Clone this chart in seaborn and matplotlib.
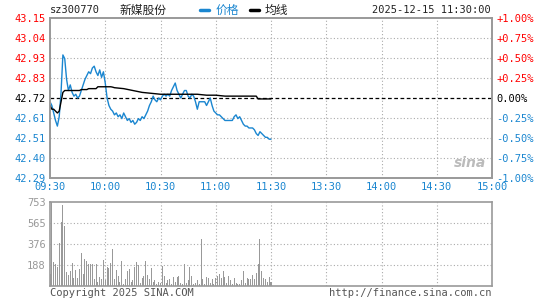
import numpy as np
import pandas as pd
import seaborn as sns
import matplotlib.pyplot as plt

# ── data ─────────────────────────────────────────────────────────────────────
stock_code = "sz300770"
stock_name = "新媒股份"
timestamp = "2025-12-15 11:30:00"
prev_close = 42.72

time_labels = ["09:30", "10:00", "10:30", "11:00", "11:30", "13:30", "14:00", "14:30", "15:00"]
pct_levels = [-1.00, -0.75, -0.50, -0.25, 0.00, 0.25, 0.50, 0.75, 1.00]
vol_ticks = [188, 376, 565, 753]

# one value per minute, 09:30 .. 11:30
price = [
    42.70, 42.68, 42.64, 42.60, 42.57, 42.62, 42.75, 42.95, 42.93, 42.82,
    42.76, 42.79, 42.75, 42.73, 42.74, 42.72, 42.73, 42.76, 42.79, 42.82,
    42.84, 42.86, 42.85, 42.88, 42.89, 42.86, 42.84, 42.87, 42.83, 42.86,
    42.80, 42.72, 42.68, 42.66, 42.65, 42.63, 42.64, 42.62, 42.63, 42.61,
    42.64, 42.62, 42.60, 42.61, 42.59, 42.60, 42.58, 42.59, 42.61, 42.60,
    42.62, 42.61, 42.63, 42.65, 42.68, 42.70, 42.73, 42.71, 42.70, 42.72,
    42.71, 42.73, 42.74, 42.73, 42.74, 42.73, 42.76, 42.78, 42.80, 42.76,
    42.74, 42.72, 42.74, 42.76, 42.76, 42.73, 42.72, 42.74, 42.73, 42.70,
    42.66, 42.70, 42.70, 42.70, 42.70, 42.68, 42.70, 42.72, 42.68, 42.65,
    42.64, 42.63, 42.63, 42.62, 42.61, 42.60, 42.60, 42.60, 42.60, 42.60,
    42.62, 42.63, 42.61, 42.62, 42.60, 42.58, 42.57, 42.57, 42.56, 42.56,
    42.56, 42.55, 42.53, 42.52, 42.54, 42.53, 42.52, 42.51, 42.51, 42.50,
    42.50,
]

avg_price = [
    42.68, 42.66, 42.66, 42.65, 42.64, 42.65, 42.70, 42.75, 42.76, 42.76,
    42.76, 42.76, 42.76, 42.76, 42.76, 42.76, 42.76, 42.765, 42.765, 42.765,
    42.765, 42.77, 42.77, 42.77, 42.77, 42.77, 42.78, 42.78, 42.78, 42.78,
    42.78, 42.78, 42.78, 42.78, 42.778, 42.775, 42.774, 42.773, 42.772, 42.771,
    42.77, 42.768, 42.766, 42.764, 42.762, 42.76, 42.758, 42.756, 42.754, 42.752,
    42.75, 42.749, 42.748, 42.747, 42.746, 42.745, 42.744, 42.743, 42.742, 42.741,
    42.74, 42.74, 42.74, 42.74, 42.74, 42.74, 42.74, 42.74, 42.74, 42.74,
    42.74, 42.74, 42.74, 42.74, 42.74, 42.74, 42.74, 42.74, 42.74, 42.74,
    42.74, 42.739, 42.738, 42.737, 42.736, 42.735, 42.735, 42.735, 42.735, 42.735,
    42.735, 42.734, 42.733, 42.732, 42.731, 42.73, 42.73, 42.73, 42.73, 42.73,
    42.73, 42.73, 42.73, 42.73, 42.73, 42.73, 42.73, 42.73, 42.73, 42.73,
    42.73, 42.73, 42.73, 42.715, 42.715, 42.715, 42.715, 42.715, 42.715, 42.715,
    42.715,
]

volume = [
    107, 760, 218, 197, 173, 382, 571, 726, 538, 128,
    98, 137, 210, 70, 140, 75, 150, 300, 110, 240,
    220, 200, 200, 200, 60, 200, 40, 80, 60, 230,
    50, 170, 160, 210, 330, 60, 140, 90, 40, 220,
    20, 60, 130, 150, 40, 50, 170, 215, 190, 30,
    70, 90, 225, 100, 60, 160, 40, 50, 20, 40,
    30, 175, 90, 30, 50, 60, 20, 80, 40, 80,
    90, 30, 20, 200, 30, 50, 170, 90, 20, 30,
    50, 20, 420, 60, 20, 80, 70, 30, 60, 20,
    70, 90, 110, 70, 130, 80, 30, 90, 50, 20,
    70, 30, 20, 20, 50, 130, 30, 70, 60, 60,
    100, 60, 120, 200, 420, 130, 70, 60, 40, 80,
    40,
]

df = pd.DataFrame({"minute": np.arange(len(price)), "price": price,
                   "avg": avg_price, "volume": volume})

RED = "#ff0000"
BLUE = "#1a86d0"
GRAY = "#999999"
GRID = "#aaaaaa"

sns.set_style("white")
plt.rcParams["font.family"] = ["DejaVu Sans Mono", "Noto Sans CJK SC"]

W, H = 545, 300
fig = plt.figure(figsize=(W / 100, H / 100), dpi=100)


def px_axes(x0, y0, x1, y1):
    return fig.add_axes([x0 / W, 1 - y1 / H, (x1 - x0) / W, (y1 - y0) / H])


ax = px_axes(50, 18, 492, 178)
axv = px_axes(50, 202, 492, 286)

# ── price panel ──────────────────────────────────────────────────────────────
price_ticks = [prev_close * (1 + p / 100) for p in pct_levels]
ax.set_xlim(0, 240)
ax.set_ylim(price_ticks[0], price_ticks[-1])
for t in price_ticks[1:-1]:
    if abs(t - prev_close) > 1e-9:
        ax.axhline(t, color=GRID, lw=0.8, ls=(0, (1, 2)), zorder=0)
for xt in range(30, 240, 30):
    ax.axvline(xt, color=GRID, lw=0.8, ls=(0, (1, 2)), zorder=0)
ax.axhline(prev_close, color="black", lw=0.9, ls=(0, (3, 2)), zorder=1)

sns.lineplot(data=df, x="minute", y="avg", color="black", lw=1.0, ax=ax, zorder=3)
sns.lineplot(data=df, x="minute", y="price", color=BLUE, lw=1.0, ax=ax, zorder=2)

ax.set_yticks(price_ticks)
ax.set_yticklabels([f"{t:.2f}" for t in price_ticks], fontsize=7.5)
for lbl, p in zip(ax.get_yticklabels(), pct_levels):
    lbl.set_color(RED if p > 0 else ("black" if p == 0 else BLUE))

ax.set_xticks(range(0, 241, 30))
ax.set_xticklabels(time_labels, fontsize=7.5, color=BLUE)
ax.tick_params(length=0, pad=3)
ax.set_xlabel("")
ax.set_ylabel("")

axr = ax.twinx()
axr.set_ylim(pct_levels[0], pct_levels[-1])
axr.set_yticks(pct_levels)
axr.set_yticklabels([("+" if p > 0 else "") + f"{p:.2f}%" for p in pct_levels], fontsize=7.5)
for lbl, p in zip(axr.get_yticklabels(), pct_levels):
    lbl.set_color(RED if p > 0 else ("black" if p == 0 else BLUE))
axr.tick_params(length=0, pad=3)

for a in (ax, axr, axv):
    for s in a.spines.values():
        s.set_color(GRAY)
        s.set_linewidth(1.2)

# ── volume panel ─────────────────────────────────────────────────────────────
axv.set_xlim(0, 240)
axv.set_ylim(0, vol_ticks[-1])
for t in vol_ticks[:-1]:
    axv.axhline(t, color=GRID, lw=0.8, ls=(0, (1, 2)), zorder=0)
for xt in range(30, 240, 30):
    axv.axvline(xt, color=GRID, lw=0.8, ls=(0, (1, 2)), zorder=0)
axv.bar(df["minute"], df["volume"], width=0.55, color=GRAY, linewidth=0, zorder=2)
axv.set_yticks(vol_ticks)
axv.set_yticklabels([str(v) for v in vol_ticks], fontsize=7.5, color=GRAY)
axv.set_xticks([])
axv.tick_params(length=0, pad=3)

# ── header / footer text ─────────────────────────────────────────────────────
def px_text(x, y, s, **kw):
    fig.text(x / W, 1 - y / H, s, va="center", **kw)

px_text(50, 10, stock_code, fontsize=7.5, color="#222222")
px_text(120, 10, stock_name, fontsize=8.5, color="#222222")
fig.add_artist(plt.Line2D([200 / W, 209 / W], [1 - 10 / H] * 2, color=BLUE, lw=2.5))
px_text(216, 10, "价格", fontsize=8.5, color=BLUE)
fig.add_artist(plt.Line2D([250 / W, 259 / W], [1 - 10 / H] * 2, color="black", lw=2.5))
px_text(265, 10, "均线", fontsize=8.5, color="#222222")
px_text(491, 10, timestamp, fontsize=7.5, color="#222222", ha="right")

px_text(50, 293, "Copyright 2025 SINA.COM", fontsize=7.5, color="#555555")
px_text(491, 293, "http://finance.sina.com.cn", fontsize=7.5, color="#555555", ha="right")
px_text(486, 163, "sina", fontsize=10, color="#bbbbbb", ha="right",
        style="italic", weight="bold", family="DejaVu Sans")

fig.savefig("out.png", dpi=100)
